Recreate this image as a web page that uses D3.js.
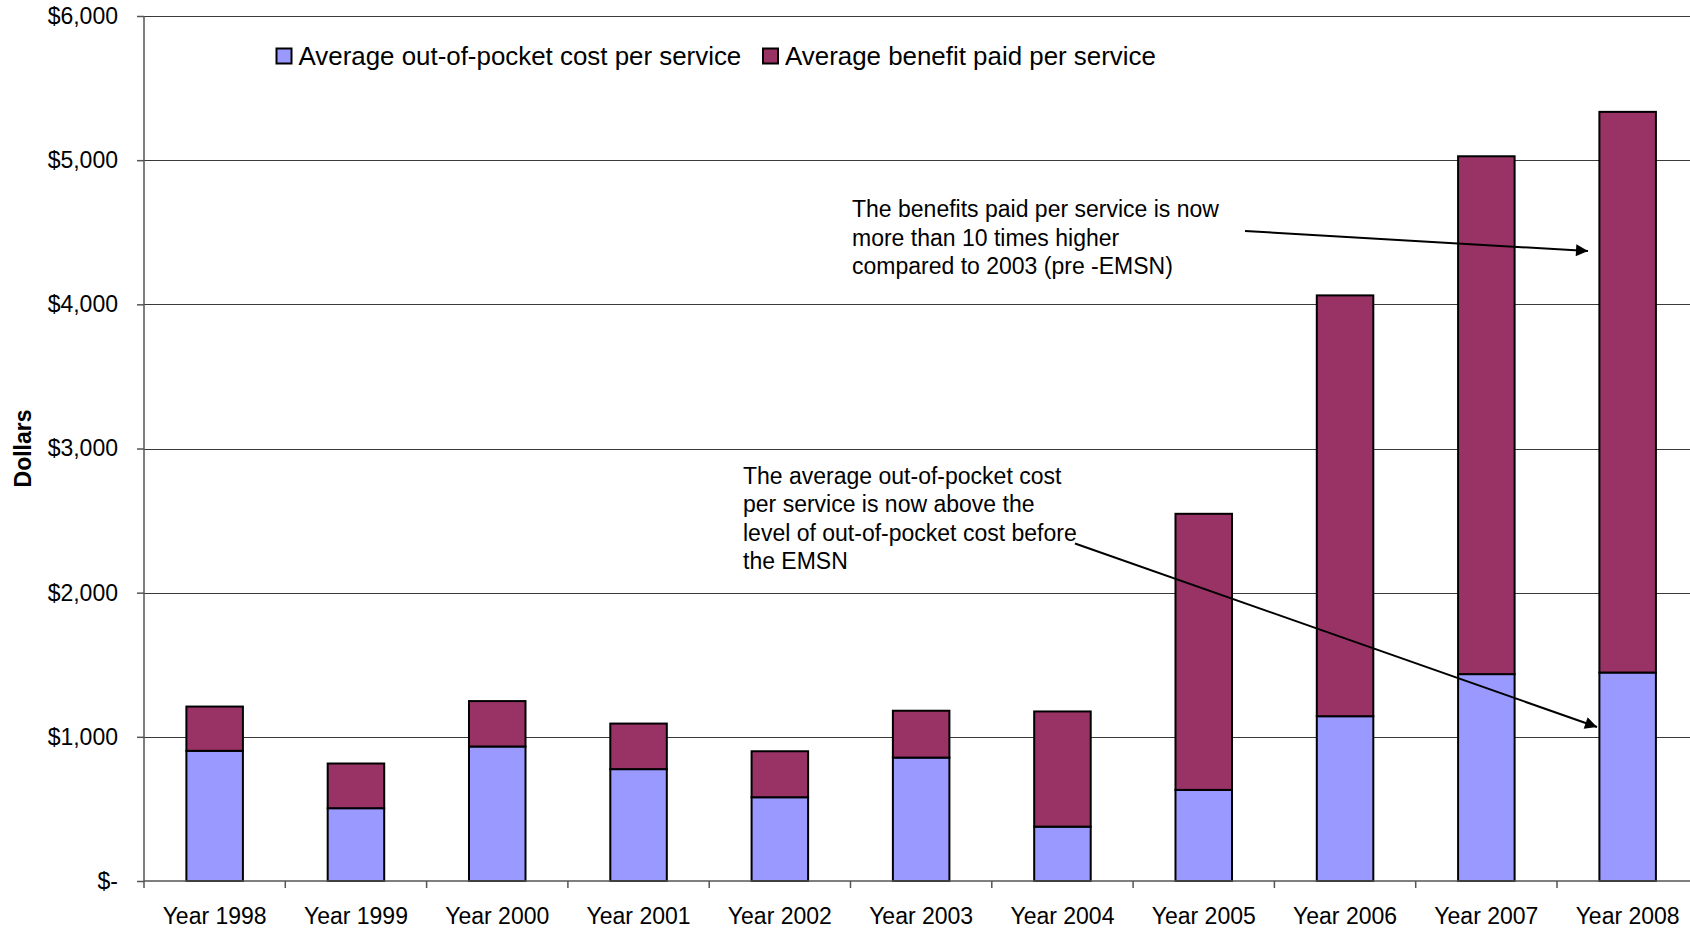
<!DOCTYPE html>
<html>
<head>
<meta charset="utf-8">
<script src="https://cdn.jsdelivr.net/npm/d3@7"></script>
<style>
  html, body { margin: 0; padding: 0; background: #fff; }
  svg { display: block; font-family: "Liberation Sans", Arial, sans-serif; }
</style>
</head>
<body>
<svg id="chart" width="1690" height="930"></svg>
<script>
const years = ["Year 1998","Year 1999","Year 2000","Year 2001","Year 2002","Year 2003","Year 2004","Year 2005","Year 2006","Year 2007","Year 2008"];
const outOfPocket = [903, 505, 933, 776, 581, 856, 377, 632, 1143, 1435, 1446];
const benefitPaid = [307, 310, 315, 316, 319, 325, 799, 1915, 2919, 3592, 3889];
const seriesNames = ["Average out-of-pocket cost per service", "Average benefit paid per service"];
const seriesColors = ["#9999FF", "#993366"];
const yTicks = [0, 1000, 2000, 3000, 4000, 5000, 6000];
const yAxisTitle = "Dollars";
const note1 = ["The benefits paid per service is now", "more than 10 times higher", "compared to 2003 (pre -EMSN)"];
const note2 = ["The average out-of-pocket cost", "per service is now above the", "level of out-of-pocket cost before", "the EMSN"];

(function () {
const svg = d3.select("#chart");
const W = 1690;
const pLeft = 144, pTop = 16, pBottom = 881;
const step = 141.3;
const pRight = pLeft + step * years.length;

const y = d3.scaleLinear().domain([0, 6000]).range([pBottom, pTop]);
const x = d3.scaleBand().domain(years).range([pLeft, pRight]).paddingInner(0.6).paddingOuter(0.3);
const xb = d3.scaleBand().domain(years).range([pLeft, pRight]).padding(0);

// gridlines
svg.append("g").selectAll("line").data(yTicks.filter(d => d > 0)).join("line")
  .attr("x1", pLeft).attr("x2", W)
  .attr("y1", d => Math.round(y(d)) + 0.5).attr("y2", d => Math.round(y(d)) + 0.5)
  .attr("stroke", "#3a3a3a").attr("stroke-width", 1);

// y axis
const yAxis = d3.axisLeft(y).tickValues(yTicks).tickSize(7).tickPadding(19)
  .tickFormat(d => d === 0 ? "$-" : "$" + d3.format(",")(d));
const gy = svg.append("g").attr("transform", `translate(${pLeft},0)`).call(yAxis);
gy.select(".domain").attr("stroke", "#555").attr("stroke-width", 1.5).attr("d", `M0,${pTop}V${pBottom}`);
gy.selectAll(".tick line").attr("stroke", "#555").attr("stroke-width", 1.5);
gy.selectAll(".tick text").attr("font-size", 23).attr("fill", "#000")
  .attr("font-family", "Liberation Sans, Arial, sans-serif");

// bars
const stacked = years.map((yr, i) => ({ yr, a: outOfPocket[i], b: benefitPaid[i] }));
const gb = svg.append("g");
gb.selectAll("rect.oop").data(stacked).join("rect").attr("class", "oop")
  .attr("x", d => x(d.yr)).attr("width", x.bandwidth())
  .attr("y", d => y(d.a)).attr("height", d => y(0) - y(d.a))
  .attr("fill", seriesColors[0]).attr("stroke", "#000").attr("stroke-width", 2);
gb.selectAll("rect.ben").data(stacked).join("rect").attr("class", "ben")
  .attr("x", d => x(d.yr)).attr("width", x.bandwidth())
  .attr("y", d => y(d.a + d.b)).attr("height", d => y(d.a) - y(d.a + d.b))
  .attr("fill", seriesColors[1]).attr("stroke", "#000").attr("stroke-width", 2);

// x axis
const gx = svg.append("g");
gx.append("line").attr("x1", pLeft).attr("x2", W).attr("y1", pBottom).attr("y2", pBottom)
  .attr("stroke", "#555").attr("stroke-width", 1.5);
const bounds = years.map(d => xb(d)).concat([pRight]);
gx.selectAll("line.t").data(bounds).join("line").attr("class", "t")
  .attr("x1", d => d).attr("x2", d => d).attr("y1", pBottom).attr("y2", pBottom + 7)
  .attr("stroke", "#555").attr("stroke-width", 1.5);
gx.selectAll("text").data(years).join("text")
  .attr("x", d => xb(d) + xb.bandwidth() / 2).attr("y", 924)
  .attr("text-anchor", "middle").attr("font-size", 23).attr("fill", "#000").text(d => d);

// y axis title
svg.append("text").attr("transform", `translate(31,${(pTop + pBottom) / 2}) rotate(-90)`)
  .attr("text-anchor", "middle").attr("font-size", 23).attr("font-weight", "bold").text(yAxisTitle);

// legend
const legX = [276.5, 763];
const leg = svg.append("g");
seriesNames.forEach((name, i) => {
  leg.append("rect").attr("x", legX[i]).attr("y", 48.5).attr("width", 15).attr("height", 15)
    .attr("fill", seriesColors[i]).attr("stroke", "#000").attr("stroke-width", 2);
  leg.append("text").attr("x", legX[i] + 22).attr("y", 64.5).attr("font-size", 25.9).attr("fill", "#000").text(name);
});

// annotations
const notes = svg.append("g").attr("font-size", 23).attr("fill", "#000");
note1.forEach((t, i) => notes.append("text").attr("x", 852).attr("y", 217 + i * 28.5).text(t));
note2.forEach((t, i) => notes.append("text").attr("x", 743).attr("y", 483.5 + i * 28.5).text(t));

// arrows
svg.append("defs").append("marker").attr("id", "arrow")
  .attr("viewBox", "0 0 10 10").attr("refX", 10).attr("refY", 5)
  .attr("markerWidth", 7.5).attr("markerHeight", 6).attr("markerUnits", "strokeWidth")
  .attr("orient", "auto")
  .append("path").attr("d", "M0,0L10,5L0,10Z").attr("fill", "#000");
const arrows = [[1245, 231, 1588, 251], [1075, 543.5, 1597, 727]];
svg.append("g").selectAll("line").data(arrows).join("line")
  .attr("x1", d => d[0]).attr("y1", d => d[1]).attr("x2", d => d[2]).attr("y2", d => d[3])
  .attr("stroke", "#000").attr("stroke-width", 2).attr("marker-end", "url(#arrow)");
})();
</script>
</body>
</html>
